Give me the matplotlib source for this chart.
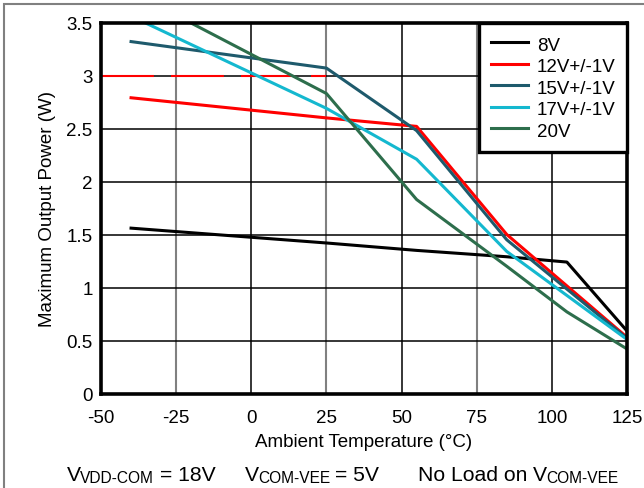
import matplotlib
matplotlib.use("Agg")
import matplotlib.pyplot as plt
from matplotlib.patches import Rectangle

plt.rcParams['font.family'] = ['Liberation Sans', 'DejaVu Sans']

# Data
temps_8 = [-40, 25, 55, 85, 105, 125]
p_8 = [1.56, 1.42, 1.35, 1.29, 1.24, 0.59]
temps_12 = [-40, 25, 55, 85, 125]
p_12 = [2.79, 2.60, 2.52, 1.50, 0.53]
temps_15 = [-40, 25, 55, 85, 125]
p_15 = [3.32, 3.07, 2.48, 1.45, 0.52]
temps_17 = [-40, 25, 55, 85, 125]
p_17 = [3.56, 2.69, 2.21, 1.34, 0.51]
temps_20 = [-40, 25, 55, 85, 105, 125]
p_20 = [3.79, 2.83, 1.83, 1.20, 0.77, 0.42]
limit_temps = [-50, 25]
limit_power = [3.0, 3.0]

labels = ["8V", "12V+/-1V", "15V+/-1V", "17V+/-1V", "20V"]
colors = ["#000000", "#ff0000", "#1e5a6c", "#14b8cf", "#2d6e4c"]
xticks = [-50, -25, 0, 25, 50, 75, 100, 125]
yticks = [0, 0.5, 1, 1.5, 2, 2.5, 3, 3.5]
ytick_labels = ["0", "0.5", "1", "1.5", "2", "2.5", "3", "3.5"]

W, H = 644, 489
fig = plt.figure(figsize=(W/100, H/100), dpi=100)
L, R, T, B = 101, 627, 23.5, 394.5
ax = fig.add_axes([L/W, 1-B/H, (R-L)/W, (B-T)/H])

fs = 13.5

# gridlines
for x in xticks[1:-1]:
    if x in (0, 50, 100):
        ax.axvline(x, color="#000000", lw=1.1, zorder=1)
    else:
        ax.axvline(x, color="#808080", lw=1.5, zorder=1)
for y in yticks[1:-1]:
    ax.axhline(y, color="#000000", lw=1.1, zorder=1)

ax.plot(limit_temps, limit_power, color="#ff0000", lw=1.5,
        linestyle=(0, (25.4, 8.2)), zorder=2)

series = [(temps_8, p_8), (temps_12, p_12), (temps_15, p_15), (temps_17, p_17), (temps_20, p_20)]
for (t, p), lab, c in zip(series, labels, colors):
    ax.plot(t, p, color=c, lw=2.2, label=lab, zorder=3)

ax.set_xlim(-50, 125)
ax.set_ylim(0, 3.5)
ax.set_xticks(xticks)
ax.set_xticklabels([str(v) for v in xticks], fontsize=fs)
ax.set_yticks(yticks)
ax.set_yticklabels(ytick_labels, fontsize=fs)
ax.tick_params(length=0)
ax.tick_params(axis='x', pad=11.5)
ax.tick_params(axis='y', pad=6)
for s in ax.spines.values():
    s.set_linewidth(2.6)
    s.set_zorder(5)

ax.set_xlabel("Ambient Temperature (\u00b0C)", fontsize=fs, va="baseline")
ax.xaxis.set_label_coords(0.5, (B-446.7)/(B-T))
ax.set_ylabel("Maximum Output Power (W)", fontsize=fs, va="center")
ax.yaxis.set_label_coords(-(L-48)/(R-L), 0.5)

leg = ax.legend(loc="upper right", bbox_to_anchor=(1, 1), borderaxespad=0,
                fontsize=fs, frameon=True, fancybox=False, handlelength=1.97,
                handletextpad=0.48, labelspacing=0.09, handleheight=1.18,
                borderpad=0.62)
leg.get_frame().set_edgecolor("black")
leg.get_frame().set_linewidth(2.4)
leg.get_frame().set_alpha(1)
leg.set_zorder(6)

# bottom condition line, built from main text and subscripts
main_fs, sub_fs = 15.2, 11.2
base_y = 1 - 481.5/H
sub_y = 1 - 483/H
pieces = [
    (66.7, "V", main_fs, base_y),
    (80.0, "VDD-COM", sub_fs, sub_y),
    (160.0, "= 18V", main_fs, base_y),
    (245.0, "V", main_fs, base_y),
    (258.0, "COM-VEE", sub_fs, sub_y),
    (335.0, "= 5V", main_fs, base_y),
    (418.3, "No Load on", main_fs, base_y),
    (533.3, "V", main_fs, base_y),
    (546.7, "COM-VEE", sub_fs, sub_y),
]
for xp, s, f, yy in pieces:
    fig.text(xp/W, yy, s, fontsize=f, ha="left", va="baseline")

fig.patches.append(Rectangle((4/W, -0.1), 1.2, (1-5/H)+0.1, transform=fig.transFigure,
                             fill=False, edgecolor="#808080", lw=1.5))

fig.savefig("out.png", dpi=100)
